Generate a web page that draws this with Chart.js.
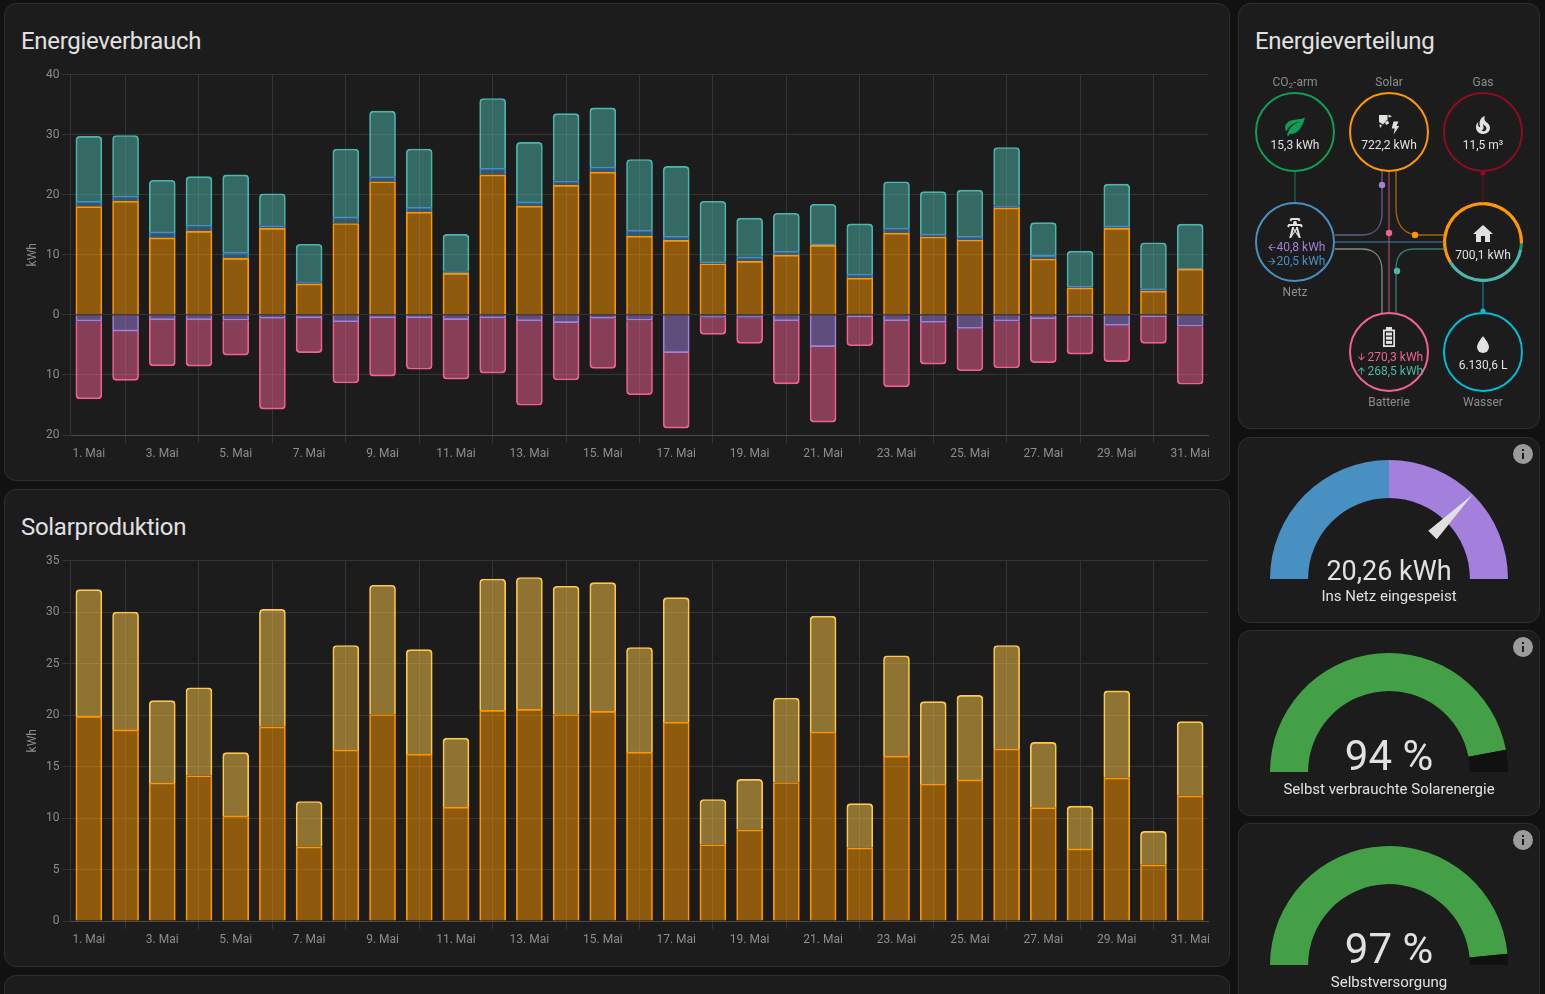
<!DOCTYPE html>
<html>
<head>
<meta charset="utf-8">
<title>Energie</title>
<script src="https://cdn.jsdelivr.net/npm/chart.js@4"></script>
<style>
html, body { margin: 0; padding: 0; background: #111111; overflow: hidden; }
#page { position: relative; width: 1545px; height: 994px; font-family: Roboto, sans-serif; overflow: hidden; }
.card { position: absolute; box-sizing: border-box; background: #1c1c1c; border: 1px solid #2e2e2e; border-radius: 12px; }
.title { position: absolute; font-size: 24px; line-height: 32px; letter-spacing: -0.3px; color: #e1e1e1; }
canvas { position: absolute; display: block; }
svg { position: absolute; left: 0; top: 0; }
svg text { font-family: Roboto, sans-serif; }
</style>
</head>
<body>
<div id="page">
  <div class="card" style="left:4px;top:3px;width:1226px;height:478px"></div>
  <div class="card" style="left:4px;top:489px;width:1226px;height:478px"></div>
  <div class="card" style="left:4px;top:975px;width:1226px;height:100px"></div>
  <div class="card" style="left:1238px;top:3px;width:302px;height:426px"></div>
  <div class="card" style="left:1238px;top:437px;width:302px;height:186px"></div>
  <div class="card" style="left:1238px;top:630px;width:302px;height:186px"></div>
  <div class="card" style="left:1238px;top:823px;width:302px;height:186px"></div>

  <div class="title" style="left:21px;top:25px">Energieverbrauch</div>
  <div class="title" style="left:21px;top:511px">Solarproduktion</div>
  <div class="title" style="left:1255px;top:25px">Energieverteilung</div>

  <canvas id="usageChart" width="1198" height="396" style="left:16px;top:64px"></canvas>
  <canvas id="solarChart" width="1198" height="396" style="left:16px;top:550px"></canvas>
  <canvas id="gaugeReturn" width="238" height="119" style="left:1270px;top:460px"></canvas>
  <canvas id="gaugeSelfUse" width="238" height="119" style="left:1270px;top:653px"></canvas>
  <canvas id="gaugeAutarky" width="238" height="119" style="left:1270px;top:846px"></canvas>
  <canvas id="homeRing" width="80" height="80" style="left:1443px;top:202px"></canvas>

  <svg width="1545" height="994" viewBox="0 0 1545 994" xmlns="http://www.w3.org/2000/svg">
    <!-- flow lines -->
    <g fill="none" stroke-width="1.3" stroke-opacity="0.6">
      <path d="M1295 171V203" stroke="#0f9d58"/>
      <path d="M1382 171V213C1382 228 1374 235 1362 235H1335" stroke="#a280db"/>
      <path d="M1389 171V313" stroke="#f06292"/>
      <path d="M1396 171V207C1396 226 1404 235 1420 235H1445" stroke="#ff9800"/>
      <path d="M1335 242H1445" stroke="#488fc2"/>
      <path d="M1335 249H1362C1374 249 1382 256 1382 271V313" stroke="#d0d0d0"/>
      <path d="M1396 313V269C1396 256 1402 249 1414 249H1445" stroke="#4db6ac"/>
      <path d="M1483 171V203" stroke="#8e0b21"/>
      <path d="M1483 281V313" stroke="#00bcd4"/>
    </g>
    <!-- flow dots -->
    <circle cx="1382" cy="185" r="3.2" fill="#a280db"/>
    <circle cx="1389" cy="233" r="3.2" fill="#f06292"/>
    <circle cx="1415" cy="235" r="3.2" fill="#ff9800"/>
    <circle cx="1397" cy="271" r="3.2" fill="#4db6ac"/>
    <circle cx="1483" cy="173" r="2.6" fill="#8e0b21"/>
    <circle cx="1483" cy="311" r="2.6" fill="#00bcd4"/>

    <!-- nodes -->
    <g fill="none" stroke-width="2">
      <circle cx="1295" cy="132" r="39" stroke="#0f9d58"/>
      <circle cx="1389" cy="132" r="39" stroke="#ff9800"/>
      <circle cx="1483" cy="132" r="39" stroke="#8e0b21"/>
      <circle cx="1295" cy="242" r="39" stroke="#488fc2"/>
      <circle cx="1389" cy="352" r="39" stroke="#f06292"/>
      <circle cx="1483" cy="352" r="39" stroke="#00bcd4"/>
    </g>

    <!-- node icons -->
    <path transform="translate(1283 114)" fill="#0f9d58" d="M17,8C8,10 5.9,16.17 3.82,21.34L5.71,22L6.66,19.7C7.14,19.87 7.64,20 8,20C19,20 22,3 22,3C21,5 14,5.25 9,6.25C4,7.25 2,11.5 2,13.5C2,15.5 3.75,17.25 3.75,17.25C7,8 17,8 17,8Z"/>
    <g fill="#e1e1e1">
      <!-- solar panel pieces and bolt -->
      <path d="M1379 115H1387.5V119.5L1383 124.5L1379 122Z"/>
      <path d="M1388.5 114.5L1392 116.5L1388.5 117.5Z"/>
      <path d="M1379.5 124L1382 125.5L1380 128Z"/>
      <path d="M1385 122.5L1388 120.5L1389 123.5L1386 125Z"/>
      <path d="M1393.5 121.5H1398.5L1396.5 126H1399.3L1393.5 134.5L1394.8 128.5H1391.7Z"/>
      <path transform="translate(1471 113)" d="M17.66 11.2C17.43 10.9 17.15 10.64 16.89 10.38C16.22 9.78 15.46 9.35 14.82 8.72C13.33 7.26 13 4.85 13.95 3C13 3.23 12.17 3.75 11.46 4.32C8.87 6.4 7.85 10.07 9.07 13.22C9.11 13.32 9.15 13.42 9.15 13.55C9.15 13.77 9 13.97 8.8 14.05C8.57 14.15 8.33 14.09 8.14 13.93C8.08 13.88 8.04 13.83 8 13.76C6.87 12.33 6.69 10.28 7.45 8.64C5.78 10 4.87 12.3 5 14.47C5.06 14.97 5.12 15.47 5.29 15.97C5.43 16.57 5.7 17.17 6 17.7C7.08 19.43 8.95 20.67 10.96 20.92C13.1 21.19 15.39 20.8 17.03 19.32C18.86 17.66 19.5 15 18.56 12.72L18.43 12.46C18.22 12 17.66 11.2 17.66 11.2M14.5 17.5C14.22 17.74 13.76 18 13.4 18.1C12.28 18.5 11.16 17.94 10.5 17.28C11.69 17 12.4 16.12 12.61 15.23C12.78 14.43 12.46 13.77 12.33 13C12.21 12.26 12.23 11.63 12.5 10.94C12.69 11.32 12.89 11.7 13.13 12C13.9 13 15.11 13.44 15.37 14.8C15.41 14.94 15.43 15.08 15.43 15.23C15.46 16.05 15.1 16.95 14.5 17.5H14.5Z"/>
      <path transform="translate(1283 216)" d="M8.28,5.45L6.5,4.55L7.76,2H16.23L17.5,4.55L15.72,5.44L15,4H9L8.28,5.45M18.62,8H14.09L13.3,5H10.7L9.91,8H5.38L4.1,10.55L5.89,11.44L6.62,10H17.38L18.1,11.45L19.89,10.56L18.62,8M17.77,22H15.7L15.46,21.1L12,15.9L8.53,21.1L8.3,22H6.23L9.12,11H11.19L10.83,12.35L12,14.1L13.16,12.35L12.81,11H14.88L17.77,22M11.4,15L10.5,13.65L9.32,18.13L11.4,15M14.68,18.12L13.5,13.64L12.6,15L14.68,18.12Z"/>
      <path transform="translate(1471 222)" d="M10,20V14H14V20H19V12H22L12,3L2,12H5V20H10Z"/>
      <path transform="translate(1471 333)" d="M12,20A6,6 0 0,1 6,14C6,10 12,3.25 12,3.25C12,3.25 18,10 18,14A6,6 0 0,1 12,20Z"/>
      <!-- battery -->
      <path d="M1386 327H1392V329.5H1395V347H1383V329.5H1386ZM1384.7 331.2V345.3H1393.3V331.2Z" fill-rule="evenodd"/>
      <rect x="1386" y="332.5" width="6" height="3"/>
      <rect x="1386" y="336.7" width="6" height="3"/>
      <rect x="1386" y="340.9" width="6" height="3"/>
    </g>

    <!-- flow arrows inside grid and battery nodes -->
    <path transform="translate(1266.5 242) scale(0.45)" fill="#a280db" d="M20,11V13H8L13.5,18.5L12.08,19.92L4.16,12L12.08,4.08L13.5,5.5L8,11H20Z"/>
    <path transform="translate(1266.5 256) scale(0.45)" fill="#488fc2" d="M4,11V13H16L10.5,18.5L11.92,19.92L19.84,12L11.92,4.08L10.5,5.5L16,11H4Z"/>
    <path transform="translate(1356 351.5) scale(0.45)" fill="#f06292" d="M11,4H13V16L18.5,10.5L19.92,11.92L12,19.84L4.08,11.92L5.5,10.5L11,16V4Z"/>
    <path transform="translate(1356 365.5) scale(0.45)" fill="#4db6ac" d="M13,20H11V8L5.5,13.5L4.08,12.08L12,4.16L19.92,12.08L18.5,13.5L13,8V20Z"/>

    <!-- node captions -->
    <g font-size="12" fill="#8d8d8d" text-anchor="middle">
      <text x="1295" y="86">CO<tspan font-size="8" dy="2">2</tspan><tspan dy="-2">-arm</tspan></text>
      <text x="1389" y="86">Solar</text>
      <text x="1483" y="86">Gas</text>
      <text x="1295" y="296">Netz</text>
      <text x="1389" y="406">Batterie</text>
      <text x="1483" y="406">Wasser</text>
    </g>
    <!-- node values -->
    <g font-size="12" fill="#e1e1e1" text-anchor="middle">
      <text x="1295" y="149">15,3 kWh</text>
      <text x="1389" y="149">722,2 kWh</text>
      <text x="1483" y="149">11,5 m³</text>
      <text x="1483" y="259">700,1 kWh</text>
      <text x="1483" y="369">6.130,6 L</text>
    </g>
    <g font-size="12">
      <text x="1276.5" y="251" fill="#a280db">40,8 kWh</text>
      <text x="1276.5" y="265" fill="#488fc2">20,5 kWh</text>
      <text x="1367.5" y="361" fill="#f06292">270,3 kWh</text>
      <text x="1367.5" y="375" fill="#4db6ac">268,5 kWh</text>
    </g>

    <!-- gauge texts -->
    <g fill="#e1e1e1" text-anchor="middle">
      <text x="1389" y="579.5" font-size="27">20,26 kWh</text>
      <text x="1389" y="601" font-size="15">Ins Netz eingespeist</text>
      <text x="1389" y="770" font-size="42">94 %</text>
      <text x="1389" y="794" font-size="15">Selbst verbrauchte Solarenergie</text>
      <text x="1389" y="963" font-size="42">97 %</text>
      <text x="1389" y="987" font-size="15">Selbstversorgung</text>
    </g>
    <!-- info icons -->
    <g id="infoIcons" fill="#9b9b9b">
      <path transform="translate(1511 442)" d="M13,9H11V7H13M13,17H11V11H13M12,2A10,10 0 0,0 2,12A10,10 0 0,0 12,22A10,10 0 0,0 22,12A10,10 0 0,0 12,2Z"/>
      <path transform="translate(1511 635)" d="M13,9H11V7H13M13,17H11V11H13M12,2A10,10 0 0,0 2,12A10,10 0 0,0 12,22A10,10 0 0,0 22,12A10,10 0 0,0 12,2Z"/>
      <path transform="translate(1511 828)" d="M13,9H11V7H13M13,17H11V11H13M12,2A10,10 0 0,0 2,12A10,10 0 0,0 12,22A10,10 0 0,0 22,12A10,10 0 0,0 12,2Z"/>
    </g>
  </svg>
</div>

<script>
var days = [];
for (var d = 1; d <= 31; d++) {
    days.push(d + '. Mai');
}

// Consumption chart, stacked: solar + grid + battery above zero, return + charging below
var usage = {
    solar: [18.0, 18.9, 12.8, 13.9, 9.4, 14.4, 5.15, 15.2, 22.15, 17.1, 6.9, 23.3, 18.1, 21.55, 23.75, 13.1, 12.4, 8.5, 8.9, 9.95, 11.55, 6.1, 13.6, 12.95, 12.45, 17.8, 9.3, 4.5, 14.4, 3.95, 7.6],
    grid: [0.9, 0.9, 1.0, 1.05, 1.05, 0.45, 0.4, 1.1, 0.85, 0.8, 0.3, 1.1, 0.7, 0.75, 0.85, 1.0, 0.7, 0.35, 0.75, 0.65, 0.25, 0.7, 0.85, 0.5, 0.65, 0.4, 0.6, 0.3, 0.4, 0.4, 0.2],
    battery: [10.8, 10.05, 8.6, 8.05, 12.85, 5.3, 6.2, 11.3, 10.9, 9.7, 6.2, 11.6, 9.9, 11.2, 9.85, 11.75, 11.6, 10.05, 6.45, 6.3, 6.6, 8.35, 7.7, 7.05, 7.65, 9.65, 5.45, 5.8, 6.95, 7.65, 7.3],
    gridReturn: [-1.05, -2.7, -0.85, -0.85, -0.9, -0.6, -0.5, -1.15, -0.5, -0.5, -0.8, -0.55, -1.0, -1.3, -0.6, -0.9, -6.3, -0.45, -0.45, -1.0, -5.3, -0.35, -1.0, -1.25, -2.25, -1.05, -0.65, -0.3, -1.75, -0.3, -1.9],
    batteryIn: [-12.95, -8.2, -7.65, -7.7, -5.8, -15.1, -5.8, -10.2, -9.7, -8.55, -9.9, -9.15, -14.05, -9.55, -8.3, -12.4, -12.55, -2.8, -4.3, -10.5, -12.55, -4.8, -11.0, -6.95, -7.05, -7.8, -7.3, -6.25, -6.05, -4.45, -9.65]
};

// Solar production chart, stacked: own production + second array
var production = {
    lower: [19.87, 18.55, 13.4, 14.1, 10.2, 18.85, 7.2, 16.6, 20.05, 16.2, 11.05, 20.45, 20.55, 20.05, 20.35, 16.4, 19.3, 7.4, 8.85, 13.45, 18.35, 7.1, 16.0, 13.3, 13.7, 16.7, 11.0, 7.0, 13.9, 5.45, 12.15],
    upper: [12.3, 11.45, 8.0, 8.55, 6.15, 11.4, 4.4, 10.15, 12.55, 10.15, 6.7, 12.75, 12.8, 12.45, 12.5, 10.15, 12.1, 4.4, 4.9, 8.2, 11.25, 4.3, 9.75, 8.0, 8.2, 10.05, 6.35, 4.15, 8.45, 3.25, 7.2]
};

var gridColor = '#343434';
var axisColor = '#4a4a4a';
var textColor = '#8d8d8d';

Chart.defaults.font.family = 'Roboto, sans-serif';
Chart.defaults.font.size = 12;
Chart.defaults.color = textColor;
Chart.defaults.animation = false;

// Build one bar dataset, fill is the border colour at half opacity
function barSet(values, color, fill) {
    return {
        data: values,
        borderColor: color,
        backgroundColor: fill,
        borderWidth: 1,
        borderRadius: 4,
        barThickness: 26
    };
}

// Shared stacked bar setup for both energy charts
function createBarChart(id, datasets, yMin, yMax, yStep) {
    var ctx = document.getElementById(id).getContext('2d');
    return new Chart(ctx, {
        type: 'bar',
        data: { labels: days, datasets: datasets },
        options: {
            responsive: false,
            layout: { padding: { top: 10.5, right: 3, left: 0, bottom: 0 } },
            plugins: { legend: { display: false }, tooltip: { enabled: false } },
            scales: {
                x: {
                    stacked: true,
                    afterFit: function(scale) { scale.height = 25; },
                    grid: {
                        offset: false,
                        // lines sit on the even days, labels on the odd ones
                        color: function(c) { return c.index % 2 === 1 ? gridColor : 'rgba(0,0,0,0)'; },
                        tickColor: function(c) { return c.index % 2 === 1 ? gridColor : 'rgba(0,0,0,0)'; }
                    },
                    border: { color: axisColor },
                    ticks: {
                        autoSkip: false,
                        maxRotation: 0,
                        padding: 4,
                        color: textColor,
                        callback: function(value, index) {
                            return index % 2 === 0 ? this.getLabelForValue(value) : '';
                        }
                    }
                },
                y: {
                    stacked: true,
                    min: yMin,
                    max: yMax,
                    afterFit: function(scale) { scale.width = 54.5; },
                    title: { display: true, text: 'kWh', color: textColor, padding: { top: 10, bottom: 0 } },
                    grid: { color: gridColor, tickColor: gridColor },
                    border: { color: gridColor },
                    ticks: {
                        stepSize: yStep,
                        color: textColor,
                        callback: function(value) { return Math.abs(value); }
                    }
                }
            }
        }
    });
}

createBarChart('usageChart', [
    barSet(usage.solar, '#ff9800', 'rgba(255, 152, 0, 0.5)'),
    barSet(usage.grid, '#488fc2', 'rgba(72, 143, 194, 0.5)'),
    barSet(usage.battery, '#4db6ac', 'rgba(77, 182, 172, 0.5)'),
    barSet(usage.gridReturn, '#a280db', 'rgba(162, 128, 219, 0.5)'),
    barSet(usage.batteryIn, '#f06292', 'rgba(240, 98, 146, 0.5)')
], -20, 40, 10);

createBarChart('solarChart', [
    barSet(production.lower, '#ff9800', 'rgba(255, 152, 0, 0.5)'),
    barSet(production.upper, '#ffc94a', 'rgba(255, 201, 74, 0.5)')
], 0, 35, 5);

// Half circle gauge, with an optional needle drawn from the value
function createGauge(id, values, colors, needle) {
    var plugins = [];
    if (needle) {
        plugins.push({
            id: 'needle',
            afterDraw: function(chart) {
                var arc = chart.getDatasetMeta(0).data[0];
                var angle = Math.PI * (1 - (needle.value - needle.min) / (needle.max - needle.min));
                var c = chart.ctx;
                var r = arc.outerRadius;
                var cos = Math.cos(angle), sin = Math.sin(angle);
                var baseR = r * 0.52, halfW = 6;
                c.save();
                c.fillStyle = '#e1e1e1';
                c.beginPath();
                c.moveTo(arc.x + r * cos, arc.y - r * sin);
                c.lineTo(arc.x + baseR * cos + halfW * sin, arc.y - baseR * sin + halfW * cos);
                c.lineTo(arc.x + baseR * cos - halfW * sin, arc.y - baseR * sin - halfW * cos);
                c.closePath();
                c.fill();
                c.restore();
            }
        });
    }
    return new Chart(document.getElementById(id).getContext('2d'), {
        type: 'doughnut',
        data: { datasets: [{ data: values, backgroundColor: colors, borderWidth: 0 }] },
        options: {
            responsive: false,
            rotation: -90,
            circumference: 180,
            cutout: '68%',
            plugins: { legend: { display: false }, tooltip: { enabled: false } }
        },
        plugins: plugins
    });
}

createGauge('gaugeReturn', [40.8, 40.8], ['#488fc2', '#a280db'], { value: 20.26, min: -40.8, max: 40.8 });
createGauge('gaugeSelfUse', [94, 6], ['#43a047', '#111111']);
createGauge('gaugeAutarky', [97, 3], ['#43a047', '#111111']);

// Ring around the home node, share of each source in percent
new Chart(document.getElementById('homeRing').getContext('2d'), {
    type: 'doughnut',
    data: { datasets: [{ data: [59.3, 0.7, 2, 38], backgroundColor: ['#ff9800', '#488fc2', '#0f9d58', '#4db6ac'], borderWidth: 0 }] },
    options: {
        responsive: false,
        rotation: 238,
        cutout: '92%',
        plugins: { legend: { display: false }, tooltip: { enabled: false } }
    }
});
</script>
</body>
</html>
